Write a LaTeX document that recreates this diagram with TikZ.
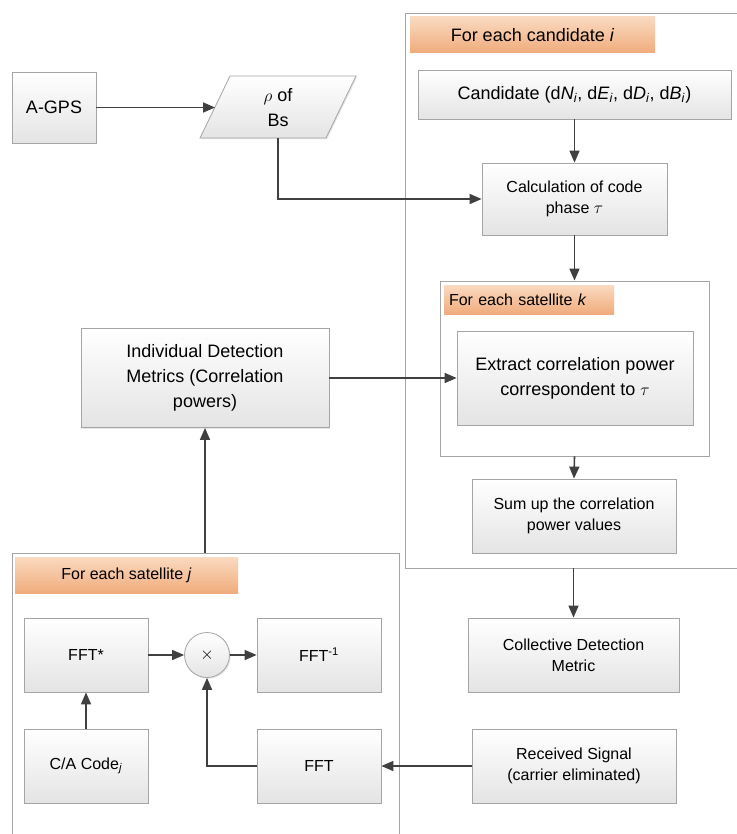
\documentclass[tikz,border=0pt]{standalone}
\usepackage{fontspec}
\setmainfont{Liberation Sans}
\usetikzlibrary{shapes.geometric, arrows.meta, positioning, calc, shadows}

\definecolor{boxline}{RGB}{165,165,165}
\definecolor{boxbot}{RGB}{228,228,228}
\definecolor{hdtop}{RGB}{250,218,192}
\definecolor{hdbot}{RGB}{240,172,124}
\definecolor{arrowcol}{RGB}{64,64,64}

\tikzset{
  block/.style={draw=boxline, line width=0.8pt, top color=white, bottom color=boxbot,
    align=center, inner sep=2pt,
    drop shadow={shadow xshift=1.2pt, shadow yshift=-1.2pt, opacity=0.2}},
  loopframe/.style={draw=boxline, line width=0.9pt, fill=white, inner sep=0pt,
    drop shadow={shadow xshift=1.2pt, shadow yshift=-1.2pt, opacity=0.15}},
  header/.style={top color=hdtop, bottom color=hdbot, inner sep=0pt},
  flow/.style={draw=arrowcol, line width=1.6pt, -{Triangle[length=12pt,width=10pt]}},
  bigtext/.style={font=\fontsize{18}{25}\selectfont},
  smalltext/.style={font=\fontsize{16}{21}\selectfont},
}

\begin{document}
\begin{tikzpicture}[x=1pt, y=-1pt]
\useasboundingbox (0,0) rectangle (736,834);

% Loop frames
\node[loopframe, minimum width=355pt, minimum height=555pt] (candloop) at (582.5,290.5) {};
\node[loopframe, minimum width=387pt, minimum height=307pt] (satloopj) at (205.5,706.5) {};
\node[header, bigtext, minimum width=245pt, minimum height=36pt] (hcand) at (532.5,35) {For each candidate \textit{i}};
\node[loopframe, minimum width=269pt, minimum height=175pt] (satloopk) at (574.5,368.5) {};
\node[header, smalltext, minimum width=170pt, minimum height=29pt, text width=160pt, align=left] (hsatk) at (529,299.5) {For each satellite \textit{k}};
\node[header, smalltext, minimum width=223pt, minimum height=36pt] (hsatj) at (126.5,575) {For each satellite \textit{j}};

% Top left
\node[block, bigtext, minimum width=84pt, minimum height=71pt] (agps) at (54,107.5) {A-GPS};
\path[block] (200,138) -- (230,76) -- (356,76) -- (326,138) -- cycle;
\node[bigtext, align=center] (rho) at (278,107.5) {$\rho$ of\\Bs};
\coordinate (rhoin) at (215,107.5);
\coordinate (rhoout) at (278,138);

% Candidate loop
\node[block, bigtext, minimum width=313pt, minimum height=49pt] (cand) at (574.5,94.5)
  {Candidate (d\textit{N}\textsubscript{\textit{i}}, d\textit{E}\textsubscript{\textit{i}}, d\textit{D}\textsubscript{\textit{i}}, d\textit{B}\textsubscript{\textit{i}})};
\node[block, smalltext, minimum width=185pt, minimum height=72pt] (calc) at (574.5,199) {Calculation of code\\phase $\tau$};
\node[block, bigtext, minimum width=236pt, minimum height=94pt] (extract) at (575,378) {Extract correlation power\\correspondent to $\tau$};
\node[block, smalltext, minimum width=204pt, minimum height=74pt] (sum) at (574,516) {Sum up the correlation\\power values};

% Outside the loops
\node[block, bigtext, minimum width=248pt, minimum height=99pt] (indiv) at (205,378) {Individual Detection\\Metrics (Correlation\\powers)};
\node[block, smalltext, minimum width=211pt, minimum height=74pt] (coll) at (573.5,655) {Collective Detection\\Metric};
\node[block, smalltext, minimum width=204pt, minimum height=74pt] (recv) at (574,766) {Received Signal\\(carrier eliminated)};

% Satellite j loop
\node[block, smalltext, minimum width=124pt, minimum height=74pt] (fftconj) at (86,655) {FFT*};
\node[block, smalltext, circle, minimum size=45pt, inner sep=0pt] (mult) at (207,655) {$\times$};
\node[block, smalltext, minimum width=124pt, minimum height=74pt] (fftinv) at (319,655) {FFT\textsuperscript{-1}};
\node[block, smalltext, minimum width=124pt, minimum height=74pt] (cacode) at (86,766) {C/A Code\textsubscript{\textit{j}}};
\node[block, smalltext, minimum width=124pt, minimum height=74pt] (fft) at (319,766) {FFT};

% Connectors
\draw[flow] (agps.east) -- (rhoin);
\draw[flow] (rhoout) |- (calc.west);
\draw[flow] (cand.south) -- (calc.north);
\draw[flow] (calc.south) -- (satloopk.north);
\draw[flow] (indiv.east) -- (extract.west);
\draw[flow] (satloopk.south) -- (sum.north);
\draw[flow] (candloop.south -| coll.north) -- (coll.north);
\draw[flow] (satloopj.north -| indiv.south) -- (indiv.south);
\draw[flow] (cacode.north) -- (fftconj.south);
\draw[flow] (fftconj.east) -- (mult.west);
\draw[flow] (mult.east) -- (fftinv.west);
\draw[flow] (fft.west) -| (mult.south);
\draw[flow] (recv.west) -- (fft.east);
\end{tikzpicture}
\end{document}
